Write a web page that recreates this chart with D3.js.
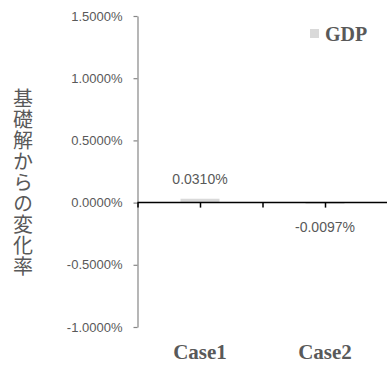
<!DOCTYPE html>
<html>
<head>
<meta charset="utf-8">
<script src="https://cdn.jsdelivr.net/npm/d3@7"></script>
<style>
  html, body { margin: 0; padding: 0; background: #fff; }
  svg { display: block; }
</style>
</head>
<body>
<svg id="chart" width="387" height="365"></svg>
<script>
// Chart data
const categories = ["Case1", "Case2"];
const seriesName = "GDP";
const gdpValues = [0.000310, -0.000097];   // change from baseline (fraction)
const yTickValues = [-0.010, -0.005, 0, 0.005, 0.010, 0.015];
const yAxisTitle = "基礎解からの変化率";

const W = 387, H = 365;
const svg = d3.select("#chart");

// Percent format with a plain hyphen for negatives
const fmt = d3.formatLocale({ decimal: ".", thousands: ",", grouping: [3], currency: ["", ""], minus: "-" }).format(".4%");

const y = d3.scaleLinear().domain([-0.010, 0.015]).range([327, 16]);
const x = d3.scalePoint().domain(categories).range([200, 325]);
const step = x(categories[1]) - x(categories[0]);
const barW = 39;

const textGrey = "#595959";

// Y axis
const yAxis = d3.axisLeft(y).tickValues(yTickValues).tickFormat(fmt).tickSize(4).tickSizeOuter(0);
const gy = svg.append("g").attr("transform", "translate(137.5,0)").call(yAxis);
gy.select(".domain").attr("stroke", "#868686").attr("stroke-width", 1.2);
gy.selectAll(".tick line").attr("stroke", "#868686").attr("stroke-width", 1.2);
gy.selectAll(".tick text")
  .attr("x", -15)
  .attr("fill", textGrey)
  .style("font-family", "'Liberation Sans', Arial, sans-serif")
  .style("font-size", "13px");

// Bars
svg.append("g").selectAll("rect")
  .data(gdpValues)
  .join("rect")
  .attr("x", (d, i) => x(categories[i]) - barW / 2)
  .attr("width", barW)
  .attr("y", d => Math.min(y(d), y(0)))
  .attr("height", d => Math.abs(y(d) - y(0)))
  .attr("fill", "#d9d9d9");

// X axis along zero line, ticks at category centres and midpoints
const xTicks = [];
categories.forEach((c, i) => {
  if (i === 0) xTicks.push(x(c) - step / 2);
  xTicks.push(x(c));
  xTicks.push(x(c) + step / 2);
});
const xLin = d3.scaleLinear().domain([0, W]).range([0, W]);
const xAxis = d3.axisBottom(xLin).tickValues(xTicks).tickFormat("").tickSize(5).tickSizeOuter(0);
const gx = svg.append("g").attr("transform", `translate(0,${y(0)})`).call(xAxis);
gx.select(".domain").attr("d", `M${x(categories[0]) - step / 2},0H${W}`).attr("stroke", "#000").attr("stroke-width", 1.5);
gx.selectAll(".tick line").attr("stroke", "#000").attr("stroke-width", 1.5);

// Data labels
svg.append("g").selectAll("text")
  .data(gdpValues)
  .join("text")
  .attr("x", (d, i) => x(categories[i]))
  .attr("y", d => d >= 0 ? y(d) - 15 : y(0) + 29)
  .attr("text-anchor", "middle")
  .attr("fill", textGrey)
  .style("font-family", "'Liberation Sans', Arial, sans-serif")
  .style("font-size", "14px")
  .text(d => fmt(d));

// Category labels
svg.append("g").selectAll("text")
  .data(categories)
  .join("text")
  .attr("x", d => x(d))
  .attr("y", 359)
  .attr("text-anchor", "middle")
  .attr("fill", textGrey)
  .style("font-family", "'Liberation Serif', 'Times New Roman', serif")
  .style("font-weight", "bold")
  .style("font-size", "21px")
  .text(d => d);

// Legend
const lg = svg.append("g").attr("transform", "translate(310,29)");
lg.append("rect").attr("width", 9).attr("height", 9).attr("fill", "#d9d9d9");
lg.append("text")
  .attr("x", 15).attr("y", 12)
  .attr("fill", textGrey)
  .style("font-family", "'Liberation Serif', 'Times New Roman', serif")
  .style("font-weight", "bold")
  .style("font-size", "20px")
  .text(seriesName);

// Vertical Y axis title
svg.append("text")
  .attr("x", 23)
  .attr("y", 88)
  .attr("fill", textGrey)
  .style("writing-mode", "vertical-rl")
  .style("font-family", "'Noto Sans CJK JP', sans-serif")
  .style("font-size", "20px")
  .style("letter-spacing", "1px")
  .text(yAxisTitle);
</script>
</body>
</html>
